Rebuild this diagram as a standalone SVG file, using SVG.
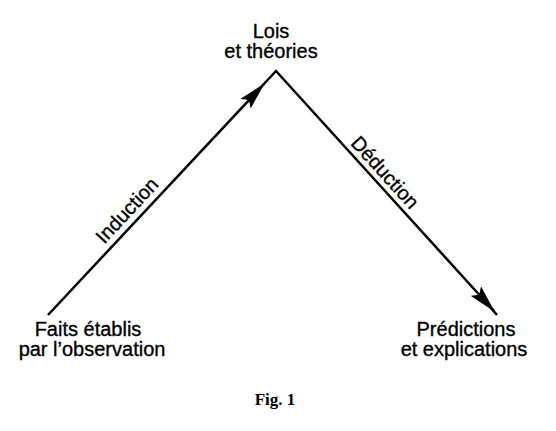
<svg xmlns="http://www.w3.org/2000/svg" width="556" height="431" viewBox="0 0 556 431">
<style>
  .lbl { font-family: "Liberation Sans", Arial, sans-serif; font-size: 20px; fill: #000; stroke: #000; stroke-width: 0.35; text-anchor: middle; }
  .edge { fill: none; stroke: #000; stroke-width: 2.5; stroke-linejoin: miter; }
  .cap { font-family: "Liberation Serif", "Times New Roman", serif; font-size: 17px; font-weight: bold; fill: #000; text-anchor: middle; }
</style>
<defs>
  <marker id="arrow" viewBox="0 0 28 14" refX="27" refY="7" markerWidth="28" markerHeight="14" markerUnits="userSpaceOnUse" orient="auto">
    <path d="M0,0 L28,7 L0,14 L5,7 Z" fill="#000"/>
  </marker>
</defs>
<rect width="556" height="431" fill="#fff"/>
<g id="connectors">
  <path class="edge" d="M48,315 L264,84" marker-end="url(#arrow)"/>
  <path class="edge" d="M262,86 L276,71 L494,311" marker-end="url(#arrow)"/>
  <path class="edge" d="M490,307 L497,315"/>
  <text class="lbl" transform="translate(132,215) rotate(-47)" x="0" y="0">Induction</text>
  <text class="lbl" transform="translate(380,177) rotate(47.7)" x="0" y="0">Déduction</text>
</g>
<g id="lois">
  <text class="lbl" x="271" y="38">Lois</text>
  <text class="lbl" x="271" y="58">et théories</text>
</g>
<g id="faits">
  <text class="lbl" x="88" y="336">Faits établis</text>
  <text class="lbl" x="92" y="356">par l’observation</text>
</g>
<g id="predictions">
  <text class="lbl" x="466" y="336">Prédictions</text>
  <text class="lbl" x="464" y="356">et explications</text>
</g>
<text class="cap" x="275" y="405">Fig. 1</text>
</svg>
